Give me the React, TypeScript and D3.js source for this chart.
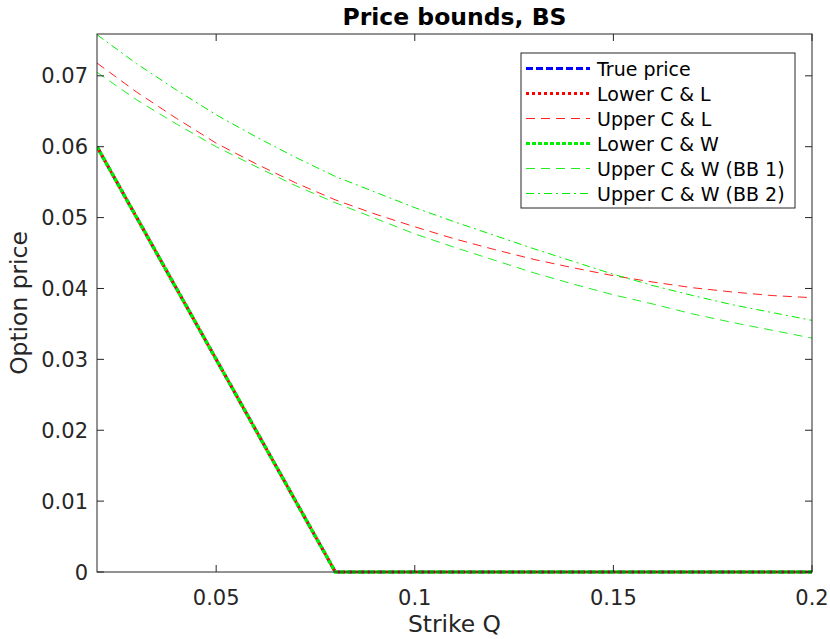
import React from 'react';
import * as d3 from 'd3';

// strike grid
const strikes = [0.02, 0.03, 0.04, 0.05, 0.06, 0.07, 0.08, 0.09, 0.1, 0.11, 0.12, 0.13, 0.14, 0.15, 0.16, 0.17, 0.18, 0.19, 0.2];

const truePrice = [0.06, 0.05, 0.04, 0.03, 0.02, 0.01, 0, 0, 0, 0, 0, 0, 0, 0, 0, 0, 0, 0, 0];
const lowerCL = [0.06, 0.05, 0.04, 0.03, 0.02, 0.01, 0, 0, 0, 0, 0, 0, 0, 0, 0, 0, 0, 0, 0];
const upperCL = [0.0718, 0.0677, 0.064, 0.0605, 0.0576, 0.0549, 0.0525, 0.0505, 0.0487, 0.047, 0.0455, 0.0441, 0.0429, 0.0418, 0.0409, 0.0401, 0.0395, 0.039, 0.0387];
const lowerCW = [0.06, 0.05, 0.04, 0.03, 0.02, 0.01, 0, 0, 0, 0, 0, 0, 0, 0, 0, 0, 0, 0, 0];
const upperBB1 = [0.0705, 0.0666, 0.0632, 0.06, 0.0572, 0.0545, 0.0521, 0.0499, 0.0477, 0.0458, 0.044, 0.0422, 0.0406, 0.0391, 0.0378, 0.0364, 0.0352, 0.0341, 0.033];
const upperBB2 = [0.0758, 0.0717, 0.068, 0.0645, 0.0614, 0.0585, 0.0558, 0.0536, 0.0514, 0.0494, 0.0475, 0.0456, 0.0438, 0.042, 0.0404, 0.039, 0.0377, 0.0366, 0.0355];

const xTicks = [0.05, 0.1, 0.15, 0.2];
const xTickLabels = ['0.05', '0.1', '0.15', '0.2'];
const yTicks = [0, 0.01, 0.02, 0.03, 0.04, 0.05, 0.06, 0.07];
const yTickLabels = ['0', '0.01', '0.02', '0.03', '0.04', '0.05', '0.06', '0.07'];

const seriesNames = ['True price', 'Lower C & L', 'Upper C & L', 'Lower C & W', 'Upper C & W (BB 1)', 'Upper C & W (BB 2)'];
const seriesValues = [truePrice, lowerCL, upperCL, lowerCW, upperBB1, upperBB2];

const styles = [
  { color: '#0000ff', width: 3, dash: '7,3', offset: 0 },
  { color: '#ff0000', width: 3, dash: '3,3', offset: 3 },
  { color: '#ff2020', width: 1, dash: '9,6', offset: 0 },
  { color: '#00ee00', width: 3.5, dash: '4,2', offset: 0 },
  { color: '#22ee22', width: 1, dash: '9,6', offset: 0 },
  { color: '#00ee00', width: 1, dash: '8,4,2,4', offset: 0 },
];

const W = 830, H = 639;
const left = 97, right = 812, top = 34, bottom = 572;
const ink = '#262626';
const font = '"DejaVu Sans", sans-serif';

export default function App() {
  const x = d3.scaleLinear().domain([0.02, 0.2]).range([left, right]);
  const y = d3.scaleLinear().domain([0, 0.0759]).range([bottom, top]);

  const line = (vals: number[]) =>
    d3.line<number>()
      .x((_, i) => x(strikes[i]))
      .y(d => y(d))(vals) || '';

  const legX = 521, legY = 53, legW = 274, legH = 155;

  return (
    <svg width={W} height={H} style={{ position: 'absolute', left: 0, top: 0, background: '#fff' }} fontFamily={font}>
      <rect x={0} y={0} width={W} height={H} fill="#fff" />
      <defs>
        <clipPath id="plot">
          <rect x={left} y={top - 2} width={right - left} height={bottom - top + 4} />
        </clipPath>
      </defs>

      <g clipPath="url(#plot)">
        {seriesValues.map((vals, i) => (
          <path key={i} d={line(vals)} fill="none" stroke={styles[i].color}
            strokeWidth={styles[i].width} strokeDasharray={styles[i].dash}
            strokeDashoffset={styles[i].offset} />
        ))}
      </g>

      {/* axes box */}
      <rect x={left} y={top} width={right - left} height={bottom - top} fill="none" stroke={ink} strokeWidth={1} />

      {xTicks.map((t, i) => (
        <g key={'x' + i}>
          <line x1={x(t)} x2={x(t)} y1={bottom} y2={bottom - 7} stroke={ink} />
          <line x1={x(t)} x2={x(t)} y1={top} y2={top + 7} stroke={ink} />
          <text x={x(t)} y={605} textAnchor="middle" fontSize={21} fill={ink}>{xTickLabels[i]}</text>
        </g>
      ))}
      {yTicks.map((t, i) => (
        <g key={'y' + i}>
          <line x1={left} x2={left + 7} y1={y(t)} y2={y(t)} stroke={ink} />
          <line x1={right} x2={right - 7} y1={y(t)} y2={y(t)} stroke={ink} />
          <text x={88} y={y(t) + 7.5} textAnchor="end" fontSize={21} fill={ink}>{yTickLabels[i]}</text>
        </g>
      ))}

      <text x={(left + right) / 2} y={25} textAnchor="middle" fontSize={23.5} fontWeight="bold" fill="#000">Price bounds, BS</text>
      <text x={(left + right) / 2} y={632} textAnchor="middle" fontSize={23.4} fill={ink}>Strike Q</text>
      <text transform={`translate(27,${(top + bottom) / 2}) rotate(-90)`} textAnchor="middle" fontSize={23.4} fill={ink}>Option price</text>

      {/* legend */}
      <rect x={legX} y={legY} width={legW} height={legH} fill="#fff" stroke={ink} strokeWidth={1} />
      {seriesNames.map((name, i) => {
        const cy = 68.5 + i * 25;
        return (
          <g key={'l' + i}>
            <line x1={526} x2={590} y1={cy} y2={cy} stroke={styles[i].color}
              strokeWidth={Math.min(styles[i].width, 3)} strokeDasharray={styles[i].dash} />
            <text x={597} y={cy + 7} fontSize={19} fill="#000">{name}</text>
          </g>
        );
      })}
    </svg>
  );
}
